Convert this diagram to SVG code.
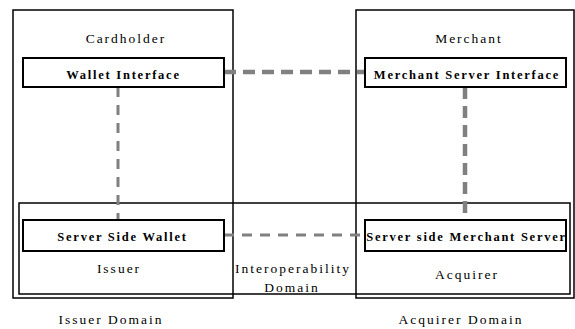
<svg xmlns="http://www.w3.org/2000/svg" width="575" height="329" viewBox="0 0 575 329">
<style>
.frame{fill:none;stroke:#000;stroke-width:1.5}
.node{fill:#fff;stroke:#000;stroke-width:2}
.t{font-family:"Liberation Serif","Times New Roman",serif;font-size:13.5px;letter-spacing:2px;text-anchor:middle;fill:#000}
.b{font-family:"Liberation Serif","Times New Roman",serif;font-size:12.5px;font-weight:bold;letter-spacing:1.75px;text-anchor:middle;fill:#000}
.thick{stroke:#808080;stroke-width:4.5;stroke-dasharray:12 7;fill:none}
.thin{stroke:#808080;stroke-width:3;stroke-dasharray:10 8;fill:none}
</style>
<rect width="575" height="329" fill="#fff"/>
<g id="domains">
<rect class="frame" x="13" y="10" width="220" height="288"/>
<rect class="frame" x="356" y="10" width="218" height="288"/>
<rect class="frame" x="19" y="203" width="551" height="91"/>
<text class="t" x="126" y="43">Cardholder</text>
<text class="t" x="469" y="43">Merchant</text>
<text class="t" x="119" y="273">Issuer</text>
<text class="t" x="467" y="279">Acquirer</text>
<text class="t" x="293" y="273">Interoperability</text>
<text class="t" x="292" y="292">Domain</text>
<text class="t" x="111" y="324">Issuer Domain</text>
<text class="t" x="461" y="324">Acquirer Domain</text>
</g>
<g id="connectors">
<line class="thick" x1="224" y1="72" x2="365" y2="72"/>
<line class="thick" x1="465" y1="87" x2="465" y2="220"/>
<line class="thin" x1="118" y1="87" x2="118" y2="220"/>
<line class="thin" x1="224" y1="235" x2="365" y2="235"/>
</g>
<g id="wallet-interface">
<rect class="node" x="23" y="58" width="201" height="29"/>
<text class="b" x="123.5" y="79">Wallet Interface</text>
</g>
<g id="merchant-server-interface">
<rect class="node" x="365" y="58" width="201" height="29"/>
<text class="b" x="467" y="79">Merchant Server Interface</text>
</g>
<g id="server-side-wallet">
<rect class="node" x="23" y="220" width="201" height="31"/>
<text class="b" x="122.5" y="241">Server Side Wallet</text>
</g>
<g id="server-side-merchant-server">
<rect class="node" x="365" y="220" width="201" height="31"/>
<text class="b" x="466.5" y="241">Server side Merchant Server</text>
</g>
</svg>
